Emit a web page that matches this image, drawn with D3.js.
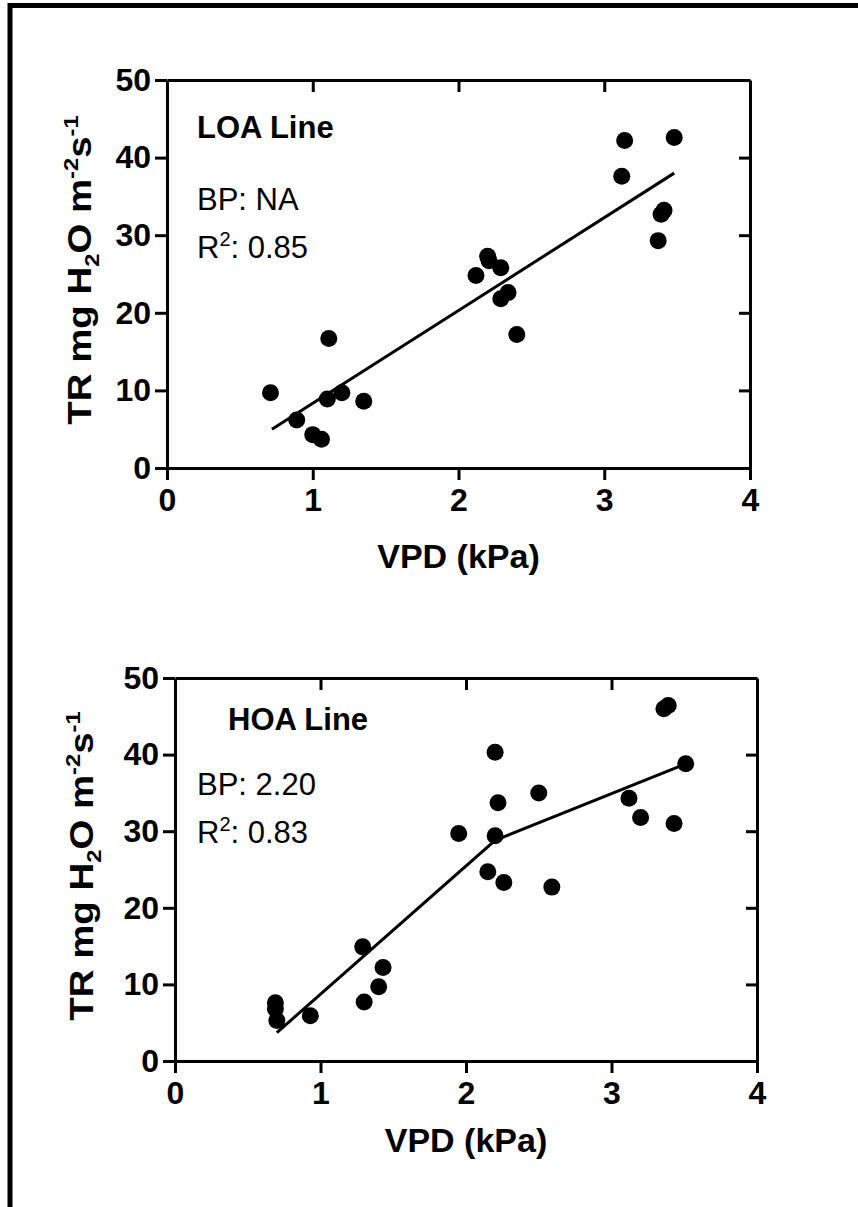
<!DOCTYPE html>
<html>
<head>
<meta charset="utf-8">
<script src="https://cdn.jsdelivr.net/npm/d3@7"></script>
<style>
    body { margin: 0; background: #fff; }
    svg { display: block; font-family: "Liberation Sans", Arial, sans-serif; }
    .axis path, .axis line { stroke: #000; stroke-width: 3; }
    .axis text { font-size: 32px; font-weight: bold; fill: #000; }
    .fit-line { fill: none; stroke: #000; stroke-width: 3; }
    .title { font-size: 31px; font-weight: bold; }
    .axis-title { font-size: 34px; font-weight: bold; }
    .note { font-size: 31px; }
</style>
</head>
<body>
<svg id="chart" width="858" height="1207"></svg>
<script>
// LOA panel
const loaX = [3.14, 3.48, 3.12, 3.41, 3.39, 3.37, 2.20, 2.21, 2.29, 2.12, 2.34, 2.29, 2.40, 1.11, 0.71, 1.20, 1.10, 1.35, 0.89, 1.00, 1.06];
const loaY = [42.2, 42.6, 37.6, 33.2, 32.7, 29.3, 27.3, 26.7, 25.8, 24.8, 22.6, 21.8, 17.2, 16.7, 9.7, 9.7, 8.9, 8.6, 6.2, 4.3, 3.7];
const loaFitX = [0.72, 3.48];
const loaFitY = [5.0, 38.0];

// HOA panel
const hoaX = [3.36, 3.39, 2.20, 3.51, 2.50, 2.22, 3.12, 3.20, 3.43, 1.95, 2.20, 2.15, 2.26, 2.59, 1.29, 1.43, 1.40, 1.30, 0.69, 0.69, 0.70, 0.93];
const hoaY = [46.0, 46.4, 40.3, 38.8, 35.0, 33.7, 34.3, 31.8, 31.0, 29.7, 29.4, 24.7, 23.3, 22.7, 14.9, 12.2, 9.7, 7.7, 7.6, 6.8, 5.3, 5.9];
const hoaFitX = [0.70, 2.20, 3.51];
const hoaFitY = [3.7, 28.8, 38.8];

const xTicks = [0, 1, 2, 3, 4];
const yTicks = [0, 10, 20, 30, 40, 50];

const svg = d3.select("#chart");

// outer frame (cropped on right and bottom)
svg.append("path")
    .attr("d", "M10,1207V5.5H858")
    .attr("fill", "none")
    .attr("stroke", "#000")
    .attr("stroke-width", 5);

function drawPanel(p) {
    const x = d3.scaleLinear().domain([0, 4]).range([p.left, p.right]);
    const y = d3.scaleLinear().domain([0, 50]).range([p.bottom, p.top]);
    const g = svg.append("g");

    // bottom and left axes, ticks outward
    g.append("g")
        .attr("class", "axis")
        .attr("transform", `translate(0,${p.bottom})`)
        .call(d3.axisBottom(x).tickValues(xTicks).tickFormat(d3.format("d")).tickSize(12).tickPadding(8).tickSizeOuter(0))
        .call(a => a.selectAll("text").attr("dy", "0.71em"));

    g.append("g")
        .attr("class", "axis")
        .attr("transform", `translate(${p.left},0)`)
        .call(d3.axisLeft(y).tickValues(yTicks).tickFormat(d3.format("d")).tickSize(12).tickPadding(4).tickSizeOuter(0));

    // top and right axes, ticks inward, no labels
    g.append("g")
        .attr("class", "axis")
        .attr("transform", `translate(0,${p.top})`)
        .call(d3.axisBottom(x).tickValues(xTicks.slice(1, -1)).tickSize(12).tickFormat("").tickSizeOuter(0));

    g.append("g")
        .attr("class", "axis")
        .attr("transform", `translate(${p.right},0)`)
        .call(d3.axisLeft(y).tickValues(yTicks.slice(1, -1)).tickSize(11).tickFormat("").tickSizeOuter(0));

    // fit line
    const line = d3.line()
        .x(d => x(d[0]))
        .y(d => y(d[1]));
    g.append("path")
        .datum(d3.zip(p.fitX, p.fitY))
        .attr("class", "fit-line")
        .attr("d", line);

    // points
    g.selectAll("circle")
        .data(d3.zip(p.xs, p.ys))
        .join("circle")
        .attr("cx", d => x(d[0]))
        .attr("cy", d => y(d[1]))
        .attr("r", 8.5)
        .attr("fill", "#000");

    // annotations
    g.append("text")
        .attr("class", "title")
        .attr("x", p.labelX)
        .attr("y", p.labelY)
        .text(p.label);

    g.append("text")
        .attr("class", "note")
        .attr("x", p.noteX)
        .attr("y", p.noteY)
        .text(`BP: ${p.bp}`);

    const r2 = g.append("text")
        .attr("class", "note")
        .attr("x", p.noteX)
        .attr("y", p.noteY + 48);
    r2.append("tspan").text("R");
    r2.append("tspan").attr("dy", -12).attr("font-size", 20).text("2");
    r2.append("tspan").attr("dy", 12).text(`: ${p.r2}`);

    // x axis title
    g.append("text")
        .attr("class", "axis-title")
        .attr("x", (p.left + p.right) / 2)
        .attr("y", p.xTitleY)
        .attr("text-anchor", "middle")
        .text("VPD (kPa)");

    // y axis title, a little stretched along its length
    const yt = g.append("text")
        .attr("class", "axis-title")
        .attr("font-size", 33)
        .attr("transform", `translate(${p.yTitleX},${p.yTitleY}) rotate(-90) scale(1.13,1)`)
        .attr("text-anchor", "middle");
    yt.append("tspan").text("TR mg H");
    yt.append("tspan").attr("dy", 8).attr("font-size", 21).text("2");
    yt.append("tspan").attr("dy", -8).text("O m");
    yt.append("tspan").attr("dy", -13).attr("font-size", 21).text("-2");
    yt.append("tspan").attr("dy", 13).text("s");
    yt.append("tspan").attr("dy", -13).attr("font-size", 21).text("-1");
}

drawPanel({
    left: 167, right: 750, top: 80, bottom: 468,
    xs: loaX, ys: loaY, fitX: loaFitX, fitY: loaFitY,
    label: "LOA Line", labelX: 197, labelY: 138,
    bp: "NA", r2: "0.85", noteX: 197, noteY: 210,
    xTitleY: 568, yTitleX: 91, yTitleY: 270
});

drawPanel({
    left: 175, right: 757, top: 678, bottom: 1061,
    xs: hoaX, ys: hoaY, fitX: hoaFitX, fitY: hoaFitY,
    label: "HOA Line", labelX: 228, labelY: 730,
    bp: "2.20", r2: "0.83", noteX: 197, noteY: 795,
    xTitleY: 1152, yTitleX: 93, yTitleY: 866
});
</script>
</body>
</html>
